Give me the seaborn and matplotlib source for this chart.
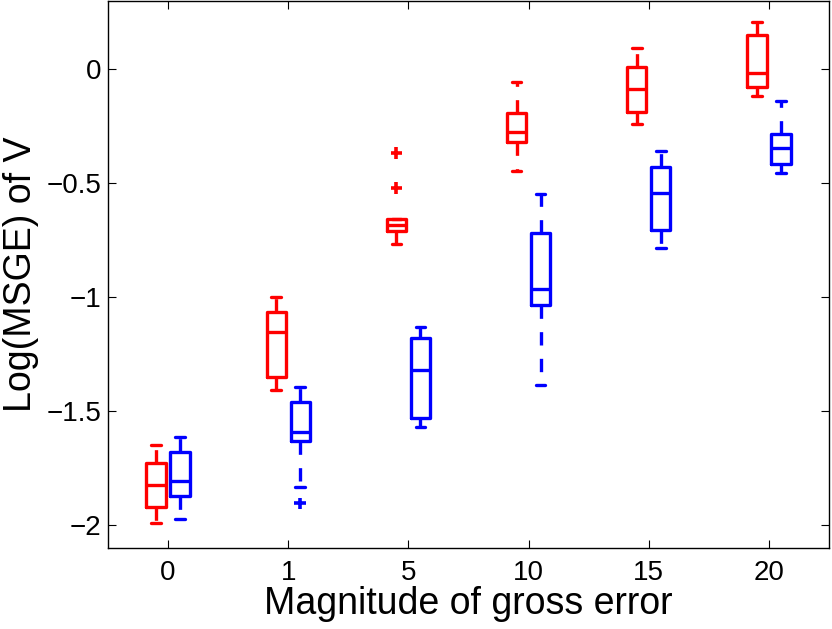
import numpy as np
import pandas as pd
import seaborn as sns
from matplotlib import pyplot as plt
from matplotlib.ticker import FuncFormatter

magnitudes = ["0", "1", "5", "10", "15", "20"]
methods = ["Method 1", "Method 2"]

# five-number summaries
red_lo = [-1.991, -1.406, -0.764, -0.445, -0.240, -0.118]
red_q1 = [-1.921, -1.349, -0.707, -0.319, -0.188, -0.079]
red_med = [-1.825, -1.153, -0.681, -0.275, -0.087, -0.017]
red_q3 = [-1.729, -1.066, -0.655, -0.192, 0.009, 0.153]
red_hi = [-1.646, -1.000, -0.655, -0.057, 0.092, 0.210]

blue_lo = [-1.974, -1.834, -1.568, -1.384, -0.782, -0.454]
blue_q1 = [-1.873, -1.629, -1.528, -1.035, -0.703, -0.415]
blue_med = [-1.808, -1.590, -1.319, -0.965, -0.543, -0.345]
blue_q3 = [-1.677, -1.459, -1.179, -0.720, -0.428, -0.284]
blue_hi = [-1.611, -1.393, -1.131, -0.546, -0.358, -0.140]

outlier_group = ["5", "5", "1"]
outlier_method = ["Method 1", "Method 1", "Method 2"]
outlier_value = [-0.367, -0.520, -1.904]


def build_df():
    rows = []
    summaries = {"Method 1": (red_lo, red_q1, red_med, red_q3, red_hi),
                 "Method 2": (blue_lo, blue_q1, blue_med, blue_q3, blue_hi)}
    for method, stats in summaries.items():
        for i, mag in enumerate(magnitudes):
            # 5 points -> linear percentiles hit q1/median/q3 exactly
            for s in stats:
                rows.append({"magnitude": mag, "method": method, "value": s[i]})
    return pd.DataFrame(rows)


if __name__ == "__main__":
    sns.set_style("ticks")
    plt.rcParams["font.family"] = ["Liberation Sans", "DejaVu Sans"]
    plt.rcParams["axes.edgecolor"] = "black"
    plt.rcParams["axes.linewidth"] = 1.0
    plt.rcParams["text.color"] = "black"
    plt.rcParams["axes.labelcolor"] = "black"
    plt.rcParams["xtick.color"] = "black"
    plt.rcParams["ytick.color"] = "black"

    df = build_df()
    palette = {"Method 1": "#ff0000", "Method 2": "#0000ff"}

    fig, ax = plt.subplots(figsize=(8.32, 6.29), dpi=100)
    fig.subplots_adjust(left=0.1298, right=0.9964, bottom=0.1288, top=0.9984)

    sns.boxplot(data=df, x="magnitude", y="value", hue="method", order=magnitudes, hue_order=methods,
                palette=palette, fill=False, width=0.4, gap=0.2, whis=(0, 100), linewidth=2.4,
                whiskerprops={"linestyle": (0, (4, 4))}, showfliers=False, legend=False, ax=ax)

    out = pd.DataFrame({"magnitude": outlier_group, "method": outlier_method, "value": outlier_value})
    out["pos"] = out["magnitude"].map(magnitudes.index) + out["method"].map({"Method 1": -0.1, "Method 2": 0.1})
    sns.scatterplot(data=out, x="pos", y="value", hue="method", palette=palette, marker="+", s=70,
                    linewidth=2.6, legend=False, ax=ax)

    ax.set_xlim(-0.5, 5.5)
    ax.set_ylim(-2.1, 0.3)
    ax.set_yticks([-2, -1.5, -1, -0.5, 0])
    ax.yaxis.set_major_formatter(FuncFormatter(lambda v, p: ("%g" % v).replace("-", "\u2212")))
    ax.set_xticks(range(len(magnitudes)))
    ax.set_xticklabels(magnitudes)
    ax.tick_params(direction="in", top=True, right=True, length=6, width=0.8, labelsize=20)
    ax.tick_params(axis="y", pad=5)
    ax.tick_params(axis="x", pad=9)
    for sp in ax.spines.values():
        sp.set_visible(True)
    ax.set_xlabel("Magnitude of gross error", fontsize=27, labelpad=0)
    ax.set_ylabel("Log(MSGE) of V", fontsize=27, labelpad=5)

    plt.savefig("out.png", dpi=100)
